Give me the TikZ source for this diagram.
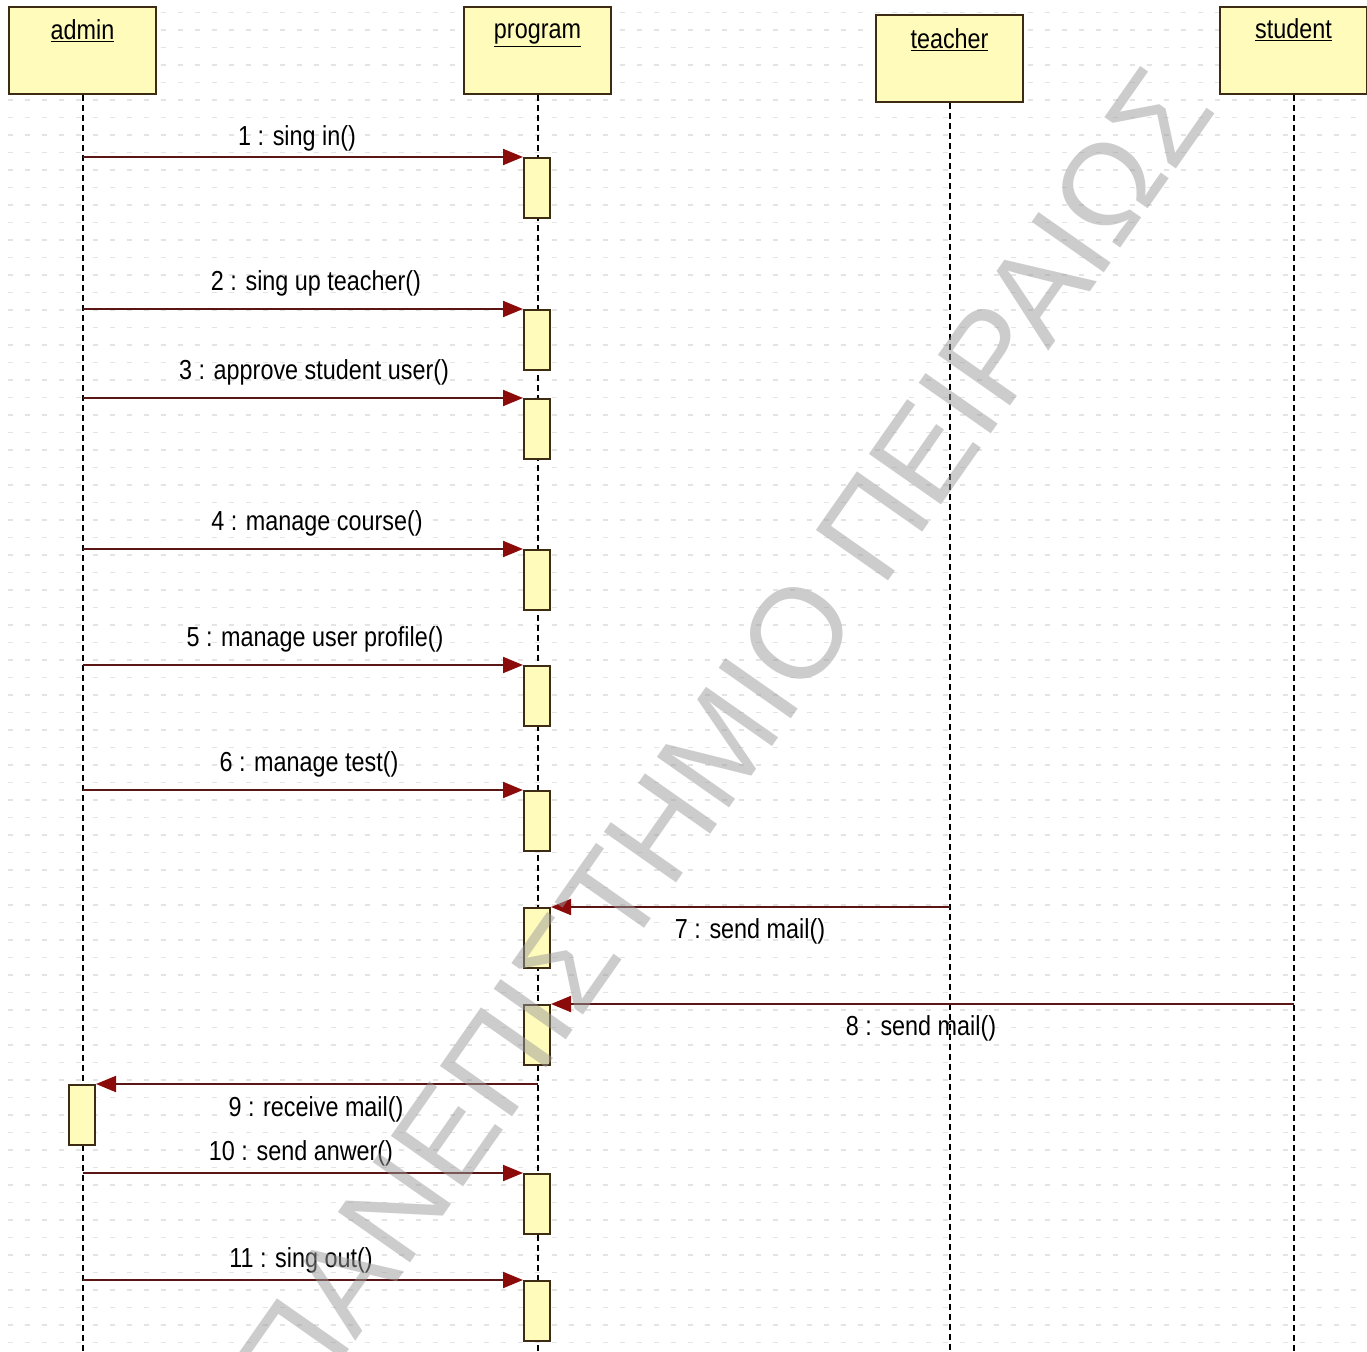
\documentclass[tikz,border=0pt]{standalone}
\usepackage{fontspec}
\usepackage{graphicx}
\setmainfont{Liberation Sans}
\usetikzlibrary{arrows.meta}
\definecolor{boxfill}{HTML}{FFFBBA}
\definecolor{boxline}{HTML}{3D2B14}
\definecolor{msgline}{HTML}{5A1515}
\definecolor{msghead}{HTML}{8B0A0A}
\definecolor{gridc}{HTML}{E4E4E4}
\definecolor{wmark}{HTML}{9A9A9A}
\newcommand{\lbl}[1]{\scalebox{0.85}[1]{#1}}
\tikzset{
  head/.style={draw=boxline, fill=boxfill, line width=2pt, minimum width=147pt, minimum height=87pt, inner sep=0pt},
  act/.style={draw=boxline, fill=boxfill, line width=2pt, minimum width=26pt, minimum height=60pt, inner sep=0pt},
  life/.style={line width=2pt, dash pattern=on 6pt off 4pt},
  msg/.style={draw=msgline, line width=2pt, -{Triangle[length=20pt,width=16pt,fill=msghead,color=msghead]}},
  mtext/.style={inner sep=0pt, text=black},
  htext/.style={inner sep=0pt, text=black, anchor=base},
  gridline/.style={draw=gridc, line width=1.5pt, dash pattern=on 5pt off 12pt, dash phase=9.5pt},
  wm/.style={rotate=55, text=wmark, text opacity=0.5, inner sep=0pt, font=\fontsize{128}{150}\selectfont},
}
\begin{document}
\begin{tikzpicture}[x=1pt, y=-1pt, font=\fontsize{27.5}{33}\selectfont]
\useasboundingbox (0,0) rectangle (1367,1351);
\fill[white] (0,0) rectangle (1367,1351);
\foreach \r in {0,...,76} { \draw[gridline] (0,12.5+17.5*\r) -- (1367,12.5+17.5*\r); }
\coordinate (bot) at (0,1351);

% lifeline heads
\node[head] (admin) at (82.5,50.5) {};
\node[head] (program) at (537.5,50.5) {};
\node[head] (teacher) at (949.5,59) {};
\node[head] (student) at (1293.5,50.5) {};
\node[htext] (tadmin) at ([yshift=-34pt]admin.north) {\lbl{\underline{admin}}};
\node[htext] (tprogram) at ([yshift=-33pt]program.north) {\lbl{\underline{program}}};
\node[htext] (tteacher) at ([yshift=-34pt]teacher.north) {\lbl{\underline{teacher}}};
\node[htext] (tstudent) at ([yshift=-33pt]student.north) {\lbl{\underline{student}}};

% lifelines
\draw[life] (admin.south) -- (admin.south |- bot);
\draw[life] (program.south) -- (program.south |- bot);
\draw[life] (teacher.south) -- (teacher.south |- bot);
\draw[life] (student.south) -- (student.south |- bot);

% activation boxes
\node[act] (p1) at (537,188) {};
\node[act] (p2) at (537,340) {};
\node[act] (p3) at (537,429) {};
\node[act] (p4) at (537,580) {};
\node[act] (p5) at (537,696) {};
\node[act] (p6) at (537,821) {};
\node[act] (p7) at (537,938) {};
\node[act] (p8) at (537,1035) {};
\node[act] (a9) at (82,1115) {};
\node[act] (p10) at (537,1204) {};
\node[act] (p11) at (537,1311) {};

% messages
\draw[msg] (admin.south |- p1.north) -- (p1.north west);
\draw[msg] (admin.south |- p2.north) -- (p2.north west);
\draw[msg] (admin.south |- p3.north) -- (p3.north west);
\draw[msg] (admin.south |- p4.north) -- (p4.north west);
\draw[msg] (admin.south |- p5.north) -- (p5.north west);
\draw[msg] (admin.south |- p6.north) -- (p6.north west);
\draw[msg] (teacher.south |- p7.north) -- (p7.north east);
\draw[msg] (student.south |- p8.north) -- (p8.north east);
\draw[msg] (program.south |- a9.north) -- (a9.north east);
\draw[msg] (admin.south |- p10.north) -- (p10.north west);
\draw[msg] (admin.south |- p11.north) -- (p11.north west);

% message labels
\node[mtext] (m1) at (297,138) {\lbl{1 : sing in()}};
\node[mtext] (m2) at (316,283) {\lbl{2 : sing up teacher()}};
\node[mtext] (m3) at (314,372) {\lbl{3 : approve student user()}};
\node[mtext] (m4) at (317,523) {\lbl{4 : manage course()}};
\node[mtext] (m5) at (315,639) {\lbl{5 : manage user profile()}};
\node[mtext] (m6) at (309,764) {\lbl{6 : manage test()}};
\node[mtext] (m7) at (750,931) {\lbl{7 : send mail()}};
\node[mtext] (m8) at (921,1028) {\lbl{8 : send mail()}};
\node[mtext] (m9) at (316,1109) {\lbl{9 : receive mail()}};
\node[mtext] (m10) at (301,1153) {\lbl{10 : send anwer()}};
\node[mtext] (m11) at (301,1260) {\lbl{11 : sing out()}};

% watermark
\node[wm] (wmk) at (724,738) {ΠΑΝΕΠΙΣΤΗΜΙΟ ΠΕΙΡΑΙΩΣ};
\end{tikzpicture}
\end{document}
